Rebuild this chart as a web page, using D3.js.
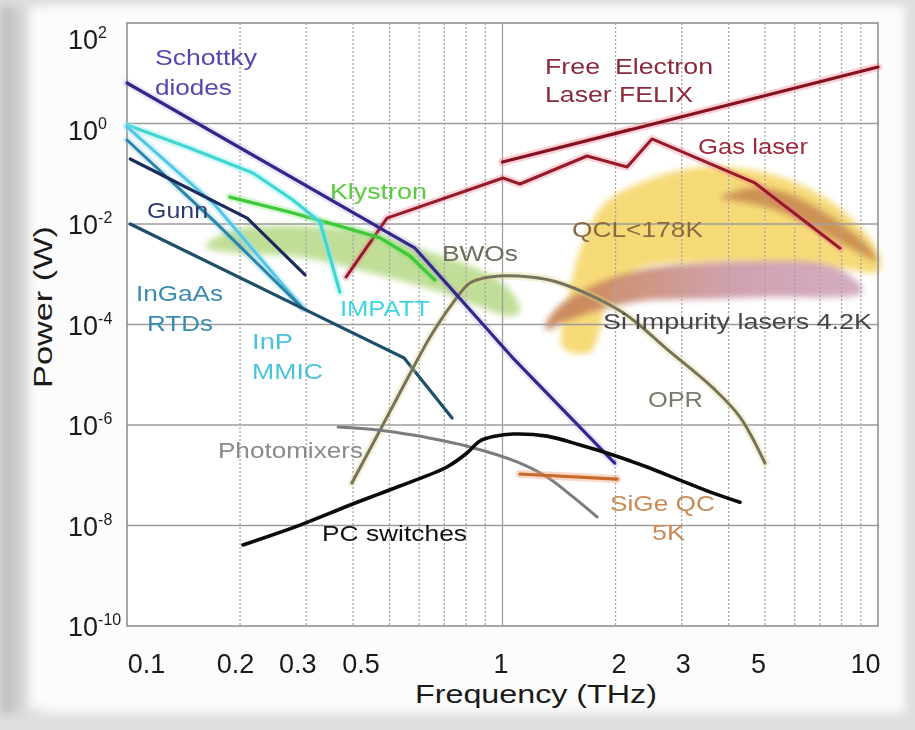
<!DOCTYPE html>
<html>
<head>
<meta charset="utf-8">
<script src="https://cdn.jsdelivr.net/npm/d3@7"></script>
<style>
  html, body { margin: 0; padding: 0; background: #e0e0e0; }
  svg { display: block; font-family: "Liberation Sans", Arial, Helvetica, sans-serif; }
</style>
</head>
<body>
<svg id="chart" width="915" height="730"></svg>
<script>
// ---------- axis ticks ----------
const xTicks = [0.1, 0.2, 0.3, 0.5, 1, 2, 3, 5, 10];
const xTickLabels = ["0.1", "0.2", "0.3", "0.5", "1", "2", "3", "5", "10"];
const xGridMinor = [0.2, 0.3, 0.4, 0.5, 0.6, 0.7, 0.8, 0.9, 2, 3, 4, 5, 6, 7, 8, 9];
const xGridMajor = [1];
const yTicks = [1e2, 1e0, 1e-2, 1e-4, 1e-6, 1e-8, 1e-10];
const yTickExponents = ["2", "0", "-2", "-4", "-6", "-8", "-10"];
const yGrid = [1e0, 1e-2, 1e-4, 1e-6, 1e-8];

// ---------- sources: [frequency THz, power W] ----------
const schottky    = [[0.1, 6.4], [0.585, 3.3e-3], [1.06, 2.25e-5], [1.99, 1.75e-7]];
const impatt      = [[0.1, 0.93], [0.1445, 0.34], [0.2165, 0.1035], [0.2766, 0.030], [0.3266, 0.011], [0.369, 4.4e-4]];
const inpMmic     = [[0.1, 0.86], [0.1715, 0.0239], [0.294, 2.1e-4]];
const rtdUpper    = [[0.1, 0.47], [0.1715, 0.011], [0.294, 2.1e-4]];
const gunn        = [[0.102, 0.197], [0.209, 0.0131], [0.298, 9.7e-4]];
const rtdLower    = [[0.102, 0.0100], [0.547, 2.15e-5], [0.734, 1.38e-6]];
const klystron    = [[0.188, 0.0344], [0.2716, 0.0173], [0.369, 9.1e-3], [0.472, 5.3e-3], [0.567, 2.3e-3], [0.66, 7.7e-4]];
const felix       = [[1.0, 0.171], [10, 13.3]];
const gasLaser    = [[0.383, 8.8e-4], [0.4925, 0.0131], [1.003, 0.0822], [1.113, 0.0625], [1.679, 0.2255],
                     [2.146, 0.136], [2.50, 0.492], [4.70, 0.0655], [7.92, 3.3e-3]];
const bwoOpr      = [[0.397, 7.0e-8], [0.472, 7.9e-7], [0.574, 1.24e-5], [0.641, 5.6e-5], [0.738, 2.7e-4],
                     [0.819, 6.7e-4], [0.926, 8.8e-4], [1.184, 8.8e-4], [1.423, 6.7e-4], [2.08, 1.77e-4],
                     [2.76, 3.1e-5], [3.64, 5.4e-6], [4.29, 1.44e-6], [5.0, 1.75e-7]];
const photomixers = [[0.365, 9.1e-7], [0.472, 7.9e-7], [0.578, 6.3e-7], [0.819, 3.65e-7], [1.093, 1.84e-7],
                     [1.314, 9.2e-8], [1.541, 3.7e-8], [1.785, 1.48e-8]];
const pcSwitches  = [[0.2037, 4.1e-9], [0.289, 1.02e-8], [0.393, 2.56e-8], [0.533, 6.1e-8], [0.711, 1.46e-7],
                     [0.804, 2.77e-7], [0.871, 4.8e-7], [0.955, 6.0e-7], [1.066, 6.6e-7], [1.314, 6.0e-7],
                     [1.609, 4.0e-7], [1.969, 2.53e-7], [2.426, 1.46e-7], [2.97, 8.0e-8], [3.64, 4.4e-8], [4.29, 2.9e-8]];
const sigeQc      = [[1.113, 1.06e-7], [2.02, 8.4e-8]];

// ---------- shaded regions (closed outlines) ----------
const klystronArea = [[0.1615, 3.65e-3], [0.1915, 7.6e-3], [0.289, 9.1e-3], [0.436, 6.9e-3], [0.653, 2.65e-3],
                      [0.871, 1.22e-3], [1.047, 4.9e-4], [1.113, 1.77e-4], [1.047, 1.48e-4], [0.871, 2.23e-4],
                      [0.653, 4.9e-4], [0.436, 1.11e-3], [0.289, 2.2e-3], [0.1915, 2.65e-3], [0.165, 3.2e-3]];
const qclArea      = [[1.449, 3.4e-5], [1.494, 3.08e-4], [1.609, 3.04e-3], [1.852, 0.0239], [2.323, 0.0655],
                      [3.357, 0.136], [5.06, 0.1035], [6.88, 0.0414], [8.42, 0.0138], [10, 2.77e-3],
                      [10, 1.11e-3], [7.92, 1.33e-3], [5.483, 1.75e-3], [3.357, 1.75e-3], [2.323, 1.33e-3],
                      [1.933, 4.9e-4], [1.818, 7.8e-5], [1.710, 2.84e-5]];
const qclHotArea   = [[3.795, 0.0329], [4.617, 0.0545], [5.653, 0.0433], [6.92, 0.0208], [8.32, 8.3e-3],
                      [9.64, 3.04e-3], [10, 1.75e-3], [9.40, 2.1e-3], [7.68, 4.8e-3], [6.28, 0.011],
                      [5.09, 0.0208], [4.16, 0.0287]];
const siArea       = [[1.298, 9.3e-5], [1.423, 2.44e-4], [1.818, 7.0e-4], [2.323, 1.22e-3], [3.357, 1.67e-3],
                      [5.157, 1.84e-3], [7.01, 1.67e-3], [8.17, 1.11e-3], [9.07, 5.3e-4], [8.95, 4.0e-4],
                      [7.45, 3.5e-4], [5.06, 3.5e-4], [3.357, 3.2e-4], [2.323, 2.9e-4], [1.710, 1.7e-4],
                      [1.423, 1.02e-4], [1.314, 7.8e-5]];

// ---------- text annotations: [text, frequency, power] (left edge, baseline) ----------
const annotations = [
  ["Schottky", 0.1187, 14.6], ["diodes", 0.1187, 3.69], ["Gunn", 0.1131, 0.0131],
  ["InGaAs", 0.1057, 2.94e-4], ["RTDs", 0.1131, 7.4e-5], ["InP", 0.2153, 3.25e-5], ["MMIC", 0.2153, 8.2e-6],
  ["IMPATT", 0.369, 1.48e-4], ["Klystron", 0.347, 0.0315], ["BWOs", 0.690, 1.84e-3],
  ["Photomixers", 0.1747, 2.2e-7], ["PC switches", 0.3306, 4.9e-9], ["OPR", 2.44, 2.28e-6],
  ["SiGe QC", 1.933, 1.95e-8], ["5K", 2.50, 5.1e-9], ["Free  Electron", 1.298, 9.66],
  ["Laser FELIX", 1.298, 2.68], ["Gas laser", 3.316, 0.247], ["QCL<178K", 1.531, 5.5e-3],
  ["Si Impurity lasers 4.2K", 1.852, 8.1e-5]
];

// ---------- styling ----------
const lineStyle = {
  felix:       { data: felix,       color: "#86101f", w: 3.2, halo: "rgba(235,120,135,0.35)" },
  gasLaser:    { data: gasLaser,    color: "#951a2a", w: 3.0, halo: "rgba(235,120,135,0.30)" },
  klystron:    { data: klystron,    color: "#3ec83a", w: 3.4, halo: "rgba(120,230,110,0.30)" },
  impatt:      { data: impatt,      color: "#3fd6d4", w: 3.2, halo: "rgba(140,235,235,0.35)" },
  inpMmic:     { data: inpMmic,     color: "#52c6e6", w: 3.0, halo: "rgba(150,220,240,0.35)" },
  rtdUpper:    { data: rtdUpper,    color: "#2a86a8", w: 3.0, halo: "rgba(120,190,215,0.25)" },
  gunn:        { data: gunn,        color: "#1b2b5c", w: 3.2, halo: null },
  rtdLower:    { data: rtdLower,    color: "#1d4f6a", w: 3.2, halo: null },
  bwoOpr:      { data: bwoOpr,      color: "#77735a", w: 3.0, halo: "rgba(220,215,140,0.35)", smooth: true },
  schottky:    { data: schottky,    color: "#33278a", w: 3.2, halo: "rgba(140,120,230,0.18)" },
  photomixers: { data: photomixers, color: "#7c7c7c", w: 3.0, halo: null, smooth: true },
  sigeQc:      { data: sigeQc,      color: "#c9692e", w: 3.2, halo: "rgba(240,160,110,0.40)" },
  pcSwitches:  { data: pcSwitches,  color: "#0b0b0b", w: 3.6, halo: null, smooth: true }
};
const textStyle = {
  "Schottky": ["#5747ad", 102], "diodes": ["#5747ad", 77], "Gunn": ["#2b3b6e", 61],
  "InGaAs": ["#3a8cb0", 87], "RTDs": ["#3a8cb0", 66], "InP": ["#49c3dc", 41], "MMIC": ["#49c3dc", 71],
  "IMPATT": ["#3fd6e2", 90], "Klystron": ["#58cc3a", 97], "BWOs": ["#6e6e5e", 76],
  "Photomixers": ["#8a8a8a", 145], "PC switches": ["#121212", 145], "OPR": ["#7b7b6b", 55],
  "SiGe QC": ["#c98b55", 105], "5K": ["#c98b55", 33], "Free  Electron": ["#8b2a3a", 168],
  "Laser FELIX": ["#8b2a3a", 148], "Gas laser": ["#9b2a3c", 110], "QCL<178K": ["#8b6a42", 131],
  "Si Impurity lasers 4.2K": ["#4a4448", 269]
};
// tick label nudges (px) so labels sit where they are printed
const xLabelNudge = { 0.1: 19, 0.2: -5, 0.3: -9, 0.5: -29, 1: -2, 2: 3, 3: 1, 5: -7, 10: -13 };
const yLabelNudge = { 100: 16, 1: 6 };

// ---------- layout ----------
const W = 915, H = 730;
const pL = 127, pR = 878, pT = 23, pB = 626;
const svg = d3.select("#chart");
const defs = svg.append("defs");

const x = d3.scaleLog().domain([0.1, 10]).range([pL, pR]);
const y = d3.scaleLog().domain([1e-10, 1e2]).range([pB, pT]);

// page background with soft edges
const edgeGrad = defs.append("linearGradient").attr("id", "edge").attr("x1", 0).attr("x2", 1);
edgeGrad.append("stop").attr("offset", 0).attr("stop-color", "#b9b9b9");
edgeGrad.append("stop").attr("offset", 0.03).attr("stop-color", "#dcdcdc");
edgeGrad.append("stop").attr("offset", 0.06).attr("stop-color", "#f6f6f6");
edgeGrad.append("stop").attr("offset", 1).attr("stop-color", "#f6f6f6");
defs.append("filter").attr("id", "soft").attr("x", "-5%").attr("y", "-5%").attr("width", "110%").attr("height", "110%")
  .append("feGaussianBlur").attr("stdDeviation", 5);
defs.append("filter").attr("id", "blob").attr("x", "-10%").attr("y", "-20%").attr("width", "120%").attr("height", "140%")
  .append("feGaussianBlur").attr("stdDeviation", 3);

svg.append("rect").attr("width", W).attr("height", H).attr("fill", "#dedede");
svg.append("rect").attr("x", 0).attr("y", 6).attr("width", 905).attr("height", 708)
  .attr("fill", "url(#edge)").attr("filter", "url(#soft)");
svg.append("rect").attr("x", 30).attr("y", 8).attr("width", 870).attr("height", 700).attr("fill", "#fcfcfc")
  .attr("filter", "url(#soft)");

// plot background
svg.append("rect").attr("x", pL).attr("y", pT).attr("width", pR - pL).attr("height", pB - pT)
  .attr("fill", "#ffffff");

// ---------- shaded regions ----------
const area = d3.line().x(d => x(d[0])).y(d => y(d[1])).curve(d3.curveCatmullRomClosed.alpha(0.5));
const siGrad = defs.append("linearGradient").attr("id", "siGrad").attr("x1", 0).attr("x2", 1);
siGrad.append("stop").attr("offset", 0).attr("stop-color", "#c8804e");
siGrad.append("stop").attr("offset", 0.3).attr("stop-color", "#c98a74");
siGrad.append("stop").attr("offset", 0.6).attr("stop-color", "#cc98a8");
siGrad.append("stop").attr("offset", 1).attr("stop-color", "#d0a4bc");

const fills = svg.append("g").attr("filter", "url(#blob)");
fills.append("path").attr("d", area(klystronArea)).attr("fill", "#b9da8c").attr("opacity", 0.9);
fills.append("path").attr("d", area(qclArea)).attr("fill", "#f6d66a").attr("opacity", 0.9);
fills.append("path").attr("d", area(qclHotArea)).attr("fill", "#c8864e").attr("opacity", 0.85);
fills.append("path").attr("d", area(siArea)).attr("fill", "url(#siGrad)").attr("opacity", 0.9);

// ---------- grid ----------
const grid = svg.append("g");
grid.selectAll(".hg").data(yGrid).join("line")
  .attr("x1", pL).attr("x2", pR).attr("y1", d => y(d)).attr("y2", d => y(d))
  .attr("stroke", "#9c9c9c").attr("stroke-width", 1.4);
grid.selectAll(".vg").data(xGridMinor).join("line")
  .attr("y1", pT).attr("y2", pB).attr("x1", d => x(d)).attr("x2", d => x(d))
  .attr("stroke", "#a6a6a6").attr("stroke-width", 1.3).attr("stroke-dasharray", "2,2");
grid.selectAll(".vG").data(xGridMajor).join("line")
  .attr("y1", pT).attr("y2", pB).attr("x1", d => x(d)).attr("x2", d => x(d))
  .attr("stroke", "#a0a0a0").attr("stroke-width", 1.3);
grid.append("rect").attr("x", pL).attr("y", pT).attr("width", pR - pL).attr("height", pB - pT)
  .attr("fill", "none").attr("stroke", "#8a8a8a").attr("stroke-width", 1.5);

// ---------- source curves ----------
const curves = svg.append("g").attr("fill", "none").attr("stroke-linecap", "round").attr("stroke-linejoin", "round");
Object.values(lineStyle).forEach(s => {
  const gen = d3.line().x(d => x(d[0])).y(d => y(d[1]))
    .curve(s.smooth ? d3.curveCatmullRom.alpha(0.5) : d3.curveLinear);
  const d = gen(s.data);
  if (s.halo) curves.append("path").attr("d", d).attr("stroke", s.halo).attr("stroke-width", s.w + 5);
  curves.append("path").attr("d", d).attr("stroke", s.color).attr("stroke-width", s.w);
});

// ---------- annotations ----------
svg.append("g").selectAll("text").data(annotations).join("text")
  .attr("x", d => x(d[1])).attr("y", d => y(d[2]))
  .attr("font-size", 22)
  .attr("fill", d => textStyle[d[0]][0])
  .attr("textLength", d => textStyle[d[0]][1])
  .attr("lengthAdjust", "spacingAndGlyphs")
  .style("white-space", "pre")
  .text(d => d[0]);

// ---------- axes ----------
const xAxis = svg.append("g").attr("transform", `translate(0,${pB})`)
  .call(d3.axisBottom(x).tickValues(xTicks).tickSize(0).tickFormat((d, i) => xTickLabels[i]));
xAxis.select(".domain").remove();
xAxis.selectAll("text")
  .attr("y", 47).attr("dy", null)
  .attr("dx", d => xLabelNudge[d] || 0)
  .attr("font-size", 27).attr("fill", "#1a1a1a")
  .attr("font-family", "'Liberation Sans', Arial, sans-serif");

const yAxis = svg.append("g").attr("transform", `translate(${pL},0)`)
  .call(d3.axisLeft(y).tickValues(yTicks).tickSize(0).tickFormat(() => ""));
yAxis.select(".domain").remove();
yAxis.selectAll(".tick text").each(function (d, i) {
  const t = d3.select(this)
    .attr("x", 68 - pL).attr("dy", "0.36em")
    .attr("y", yLabelNudge[d] || 0)
    .attr("text-anchor", "start")
    .attr("font-size", 27).attr("fill", "#1a1a1a")
    .attr("font-family", "'Liberation Sans', Arial, sans-serif");
  t.text("10");
  t.append("tspan").attr("dy", -11).attr("font-size", 16).text(yTickExponents[i]);
});

// axis titles
svg.append("text").attr("x", 415).attr("y", 703)
  .attr("font-size", 26).attr("fill", "#1a1a1a")
  .attr("textLength", 242).attr("lengthAdjust", "spacingAndGlyphs")
  .text("Frequency (THz)");
svg.append("text").attr("transform", "translate(52,388) rotate(-90)")
  .attr("font-size", 26).attr("fill", "#1a1a1a")
  .attr("textLength", 162).attr("lengthAdjust", "spacingAndGlyphs")
  .text("Power (W)");
</script>
</body>
</html>
